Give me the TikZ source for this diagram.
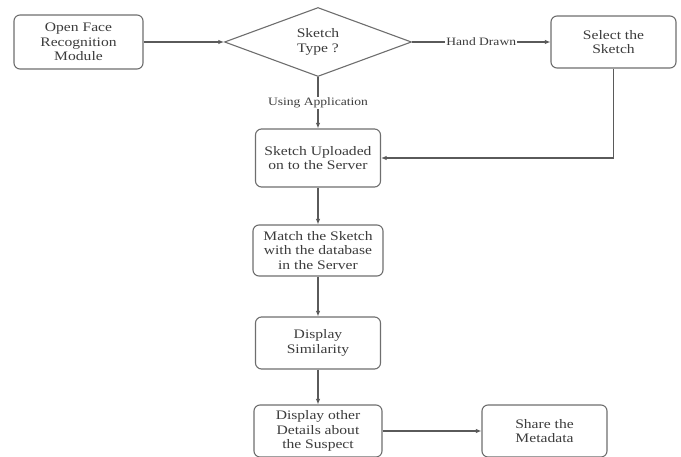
\documentclass[tikz,border=0pt]{standalone}
\usepackage{fontspec}
\setmainfont{Liberation Serif}[FakeStretch=1.2]
\usetikzlibrary{shapes.geometric,arrows.meta}
\definecolor{linegray}{HTML}{5A5A5A}
\definecolor{boxgray}{HTML}{6E6E6E}
\definecolor{textgray}{HTML}{3C3C3C}
\tikzset{
  stepbox/.style={draw=boxgray, line width=1.1pt, rounded corners=6pt, fill=white,
    align=center, text=textgray, inner sep=0pt,
    font=\fontsize{13}{14.7}\selectfont},
  decision/.style={draw=boxgray, line width=1.1pt, diamond, fill=white, align=center,
    text=textgray, inner sep=0pt, minimum width=187pt, minimum height=69pt,
    font=\fontsize{13}{14.7}\selectfont},
  conn/.style={draw=linegray, line width=1.1pt, -{Latex[length=5.5pt,width=4.5pt]}},
  lbl/.style={fill=white, text=textgray, inner sep=1pt, font=\fontsize{11.3}{13}\selectfont}
}
\begin{document}
\begin{tikzpicture}[x=1pt,y=-1pt]
\useasboundingbox (0,0) rectangle (681,457);
\node[stepbox, minimum width=129pt, minimum height=54pt] (open) at (78.5,42) {Open Face\\Recognition\\Module};
\node[decision] (dia) at (318,42) {Sketch\\Type ?};
\node[stepbox, minimum width=125pt, minimum height=52pt] (sel) at (613.5,42) {Select the\\Sketch};
\node[stepbox, minimum width=125pt, minimum height=58pt] (up) at (318,158) {Sketch Uploaded\\on to the Server};
\node[stepbox, minimum width=130pt, minimum height=51pt] (match) at (318,250.5) {Match the Sketch\\with the database\\in the Server};
\node[stepbox, minimum width=125pt, minimum height=52pt] (sim) at (318,343) {Display\\Similarity};
\node[stepbox, minimum width=128pt, minimum height=52pt] (other) at (318,431) {Display other\\Details about\\the Suspect};
\node[stepbox, minimum width=125pt, minimum height=52pt] (share) at (544.5,431) {Share the\\Metadata};

\draw[conn] (open) -- (dia);
\draw[conn] (dia.east) -- node[lbl] {Hand Drawn} (sel.west);
\draw[conn] (dia.south) -- node[lbl, pos=0.5] {Using Application} (up.north);
\draw[conn] (sel.south) |- (up.east);
\draw[conn] (up) -- (match);
\draw[conn] (match) -- (sim);
\draw[conn] (sim) -- (other);
\draw[conn] (other) -- (share);
\end{tikzpicture}
\end{document}
